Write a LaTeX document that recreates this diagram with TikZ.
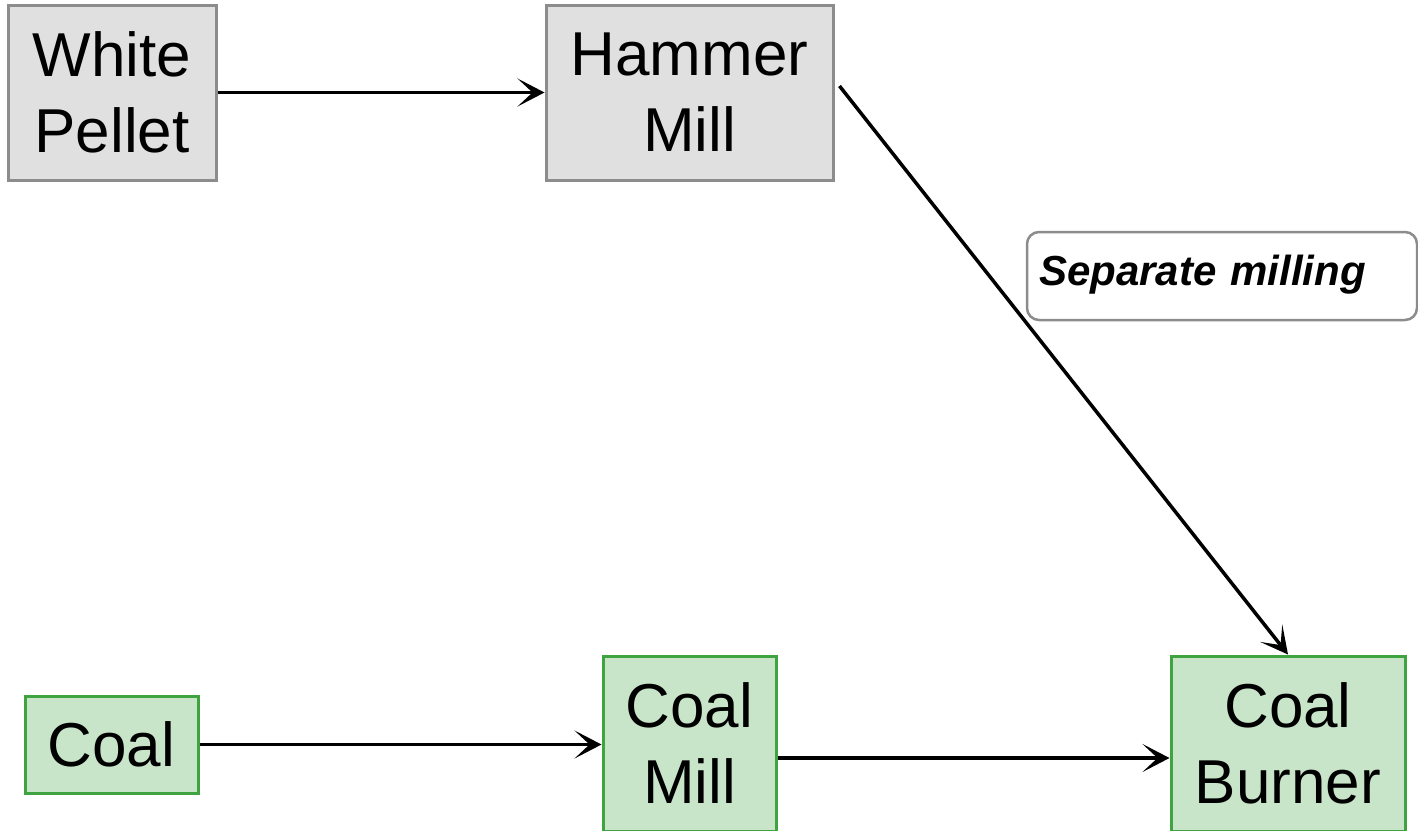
\documentclass[tikz,border=0pt]{standalone}
\usepackage{fontspec}
\setmainfont{Liberation Sans}
\usetikzlibrary{arrows.meta,calc}
\definecolor{grayfill}{HTML}{E0E0E0}
\definecolor{grayline}{HTML}{8C8C8C}
\definecolor{greenfill}{HTML}{C9E5C9}
\definecolor{greenline}{HTML}{3FA33F}
\tikzset{
  box/.style={draw, line width=3pt, inner sep=0pt, align=center,
    font=\fontsize{62}{76}\selectfont},
  graybox/.style={box, draw=grayline, fill=grayfill},
  greenbox/.style={box, draw=greenline, fill=greenfill},
  arr/.style={line width=3.5pt, -{Stealth[length=27pt,width=28pt,inset=15pt]}},
  labelbox/.style={draw=grayline, line width=2.5pt, rounded corners=12pt, fill=white,
    inner ysep=0pt, inner xsep=12pt, text height=53pt, text depth=35pt,
    text width=366pt, align=left,
    font=\fontsize{42}{50}\selectfont\bfseries\itshape}
}
\begin{document}
\begin{tikzpicture}[x=1pt,y=-1pt]
\useasboundingbox (0,0) rectangle (1418,830);
\node[graybox, minimum width=208pt, minimum height=175pt] (wp) at (112,92.5) {White\\Pellet};
\node[graybox, minimum width=287pt, minimum height=175pt] (hm) at (689.5,92.5) {Hammer\\Mill};
\node[labelbox] (sep) at (1222,276) {Separate milling};
\node[greenbox, minimum width=173pt, minimum height=97pt] (coal) at (111.5,744.5) {Coal};
\node[greenbox, minimum width=173pt, minimum height=175pt] (cm) at (689.5,743.5) {Coal\\Mill};
\node[greenbox, minimum width=234pt, minimum height=175pt] (cb) at (1288,743.5) {Coal\\Burner};
\draw[arr] (wp.east) -- (wp.east -| hm.west);
\draw[arr] ([xshift=5pt,yshift=6.5pt]hm.east) -- (cb.north);
\draw[arr] (coal.east) -- (coal.east -| cm.west);
\draw[arr] ([yshift=-14.5pt]cm.east) -- ([yshift=-14.5pt]cm.east -| cb.west);
\end{tikzpicture}
\end{document}
